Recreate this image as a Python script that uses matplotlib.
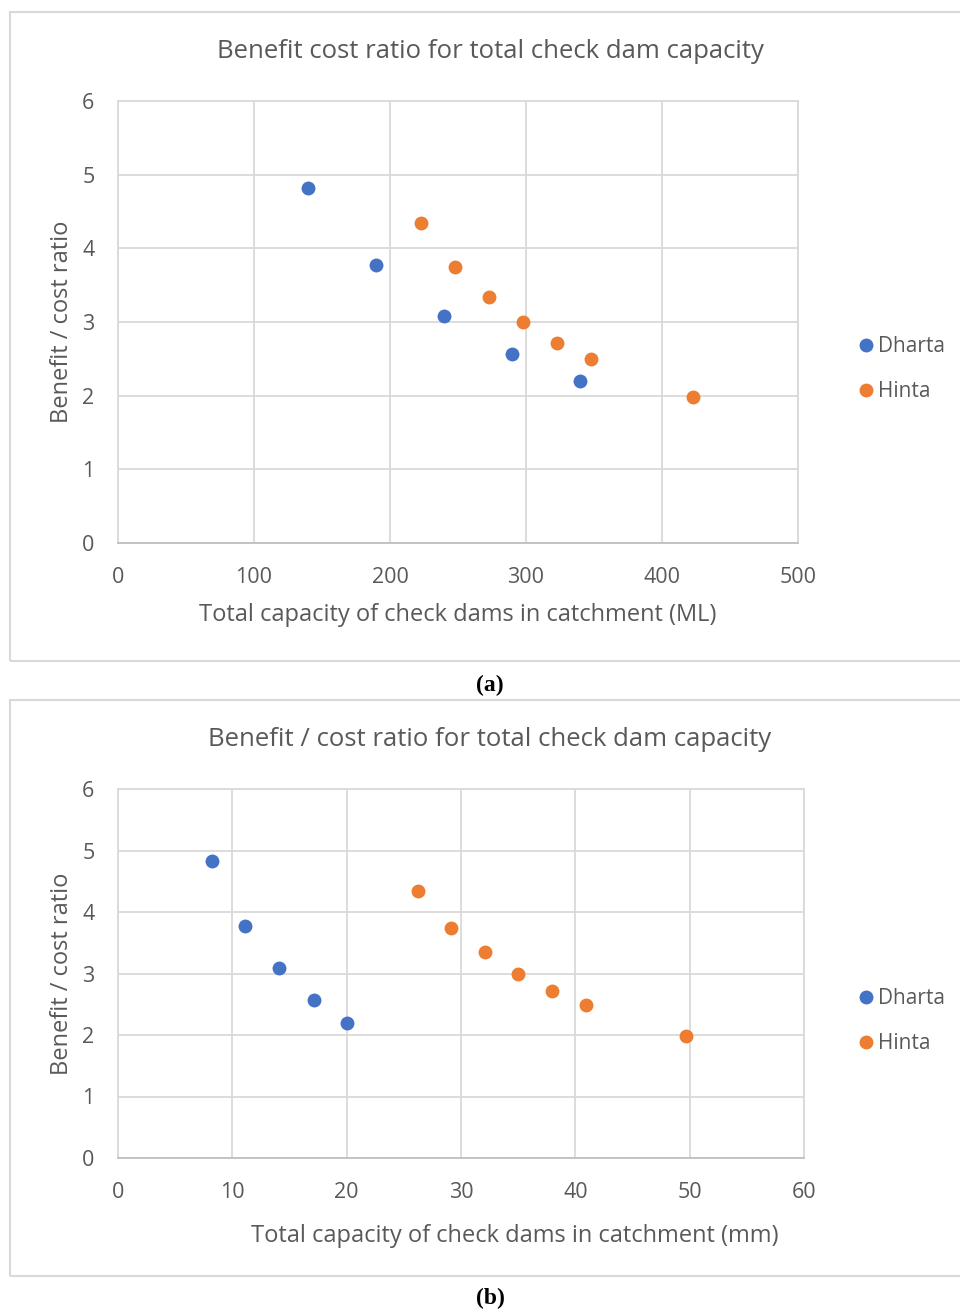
import matplotlib
matplotlib.use("Agg")
import matplotlib.pyplot as plt
from matplotlib.patches import Rectangle
from matplotlib.lines import Line2D

# ====================================
# Data
# ====================================

dharta_ml = [140, 190, 240, 290, 340]
dharta_ratio_a = [4.82, 3.77, 3.08, 2.57, 2.20]
hinta_ml = [223, 248, 273, 298, 323, 348, 423]
hinta_ratio_a = [4.34, 3.75, 3.34, 3.00, 2.71, 2.50, 1.98]

dharta_mm = [8.2, 11.1, 14.1, 17.1, 20.0]
dharta_ratio_b = [4.83, 3.77, 3.09, 2.57, 2.20]
hinta_mm = [26.2, 29.1, 32.1, 35.0, 38.0, 40.9, 49.7]
hinta_ratio_b = [4.34, 3.74, 3.35, 2.99, 2.72, 2.49, 1.98]

series_names = ["Dharta", "Hinta"]
colors = ["#4472C4", "#ED7D31"]

# ====================================
# Style
# ====================================

W, H = 960, 1311
text_col = "#595959"
grid_col = "#d9d9d9"
font = "Open Sans"
plt.rcParams["font.family"] = [font, "DejaVu Sans"]

fig = plt.figure(figsize=(W / 100, H / 100), dpi=100)


def fx(px):
    return px / W


def fy(py):
    return 1 - py / H


def panel(box, ax_box, xs, ys, xlim, xstep, title, xlabel, title_y,
          xlabel_x, xlabel_y, ylabel_x, legend_y, tag, tag_y):
    # outer chart border
    x0, y0, x1, y1 = box
    fig.patches.append(Rectangle((fx(x0), fy(y1)), fx(x1 - x0), (y1 - y0) / H,
                                 transform=fig.transFigure, fill=False,
                                 edgecolor=grid_col, lw=1.5))
    l, t, r, b = ax_box
    ax = fig.add_axes([fx(l), fy(b), fx(r - l), (b - t) / H])
    for x, y, c in zip(xs, ys, colors):
        ax.scatter(x, y, s=100, color=c, zorder=3, linewidths=0)
    ax.set_xlim(0, xlim)
    ax.set_ylim(0, 6)
    ax.set_xticks(range(0, xlim + 1, xstep))
    ax.set_yticks(range(0, 7))
    ax.grid(True, color=grid_col, lw=1.3)
    ax.set_axisbelow(True)
    for s in ax.spines.values():
        s.set_color(grid_col)
        s.set_linewidth(1.3)
    ax.spines["bottom"].set_color("#bfbfbf")
    ax.tick_params(length=0, labelsize=15.5, colors=text_col)
    ax.tick_params(axis="x", pad=17)
    ax.tick_params(axis="y", pad=17)
    fig.text(fx(490), fy(title_y), title, ha="center", va="center",
             fontsize=18.5, color=text_col)
    fig.text(fx(xlabel_x), fy(xlabel_y), xlabel, ha="center", va="center",
             fontsize=17, color=text_col)
    fig.text(fx(ylabel_x), fy((t + b) / 2), "Benefit / cost ratio",
             ha="center", va="center", rotation=90, fontsize=17, color=text_col)
    handles = [Line2D([], [], ls="", marker="o", ms=10, color=c,
                      markeredgewidth=0) for c in colors]
    fig.legend(handles, series_names, loc="center left",
               bbox_to_anchor=(fx(851), fy(legend_y)), frameon=False,
               fontsize=15, labelcolor=text_col, handlelength=0.6,
               handletextpad=0.3, labelspacing=1.15, borderaxespad=0)
    fig.text(fx(490), fy(tag_y), "(" + tag + ")", ha="center", va="center",
             fontsize=17, family="Liberation Serif", fontweight="bold",
             color="black")
    return ax


panel((10, 12, 975, 661), (118, 101, 798, 543),
      [dharta_ml, hinta_ml], [dharta_ratio_a, hinta_ratio_a], 500, 100,
      "Benefit cost ratio for total check dam capacity",
      "Total capacity of check dams in catchment (ML)",
      51, 458, 615, 62, 369, "a", 685)

panel((10, 700, 975, 1276), (118, 789, 804, 1158),
      [dharta_mm, hinta_mm], [dharta_ratio_b, hinta_ratio_b], 60, 10,
      "Benefit / cost ratio for total check dam capacity",
      "Total capacity of check dams in catchment (mm)",
      739, 515, 1236, 62, 1021, "b", 1298)

fig.savefig("out.png", dpi=100)
